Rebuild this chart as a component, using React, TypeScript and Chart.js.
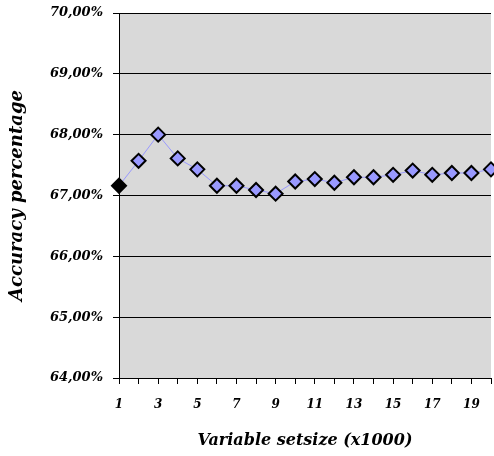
import React, { useEffect, useRef } from "react";
import { Chart, registerables } from "chart.js";

Chart.register(...registerables);

const categories = ["1","2","3","4","5","6","7","8","9","10","11","12","13","14","15","16","17","18","19","20"];
const accuracy = [67.16, 67.57, 68.0, 67.61, 67.43, 67.16, 67.16, 67.09, 67.03, 67.23, 67.27, 67.21, 67.3, 67.3, 67.34, 67.41, 67.34, 67.37, 67.37, 67.43];
const yMin = 64;
const yMax = 70;
const yStep = 1;
const xTitle = "Variable setsize (x1000)";
const yTitle = "Accuracy percentage";

const FONT = "'DejaVu Serif', serif";

export default function App() {
  const ref = useRef<HTMLCanvasElement | null>(null);

  useEffect(() => {
    document.body.style.margin = "0";
    const canvas = ref.current;
    if (!canvas) return;
    const chart = new Chart(canvas, {
      type: "line",
      data: {
        labels: categories,
        datasets: [
          {
            data: accuracy,
            borderColor: "#9999ff",
            borderWidth: 1,
            pointStyle: "rectRot",
            pointRadius: 7,
            pointHoverRadius: 7,
            pointBorderWidth: 2,
            pointBorderColor: "#000000",
            pointBackgroundColor: accuracy.map((_, i) => (i === 0 ? "#000000" : "#9999ff")),
            clip: false,
            tension: 0,
          } as any,
        ],
      },
      options: {
        responsive: false,
        animation: false,
        maintainAspectRatio: false,
        layout: { autoPadding: false, padding: { top: 13, right: 3, left: 0, bottom: 0 } } as any,
        plugins: {
          legend: { display: false },
          tooltip: { enabled: false },
        },
        scales: {
          x: {
            type: "category",
            offset: false,
            grid: {
              drawOnChartArea: false,
              drawTicks: true,
              tickLength: 6,
              color: "#000000",
            },
            border: { display: true, color: "#000000", width: 1 },
            ticks: {
              autoSkip: false,
              maxRotation: 0,
              padding: 14,
              color: "#000000",
              font: { family: FONT, size: 12, style: "italic", weight: "bold" },
              callback: (v: any, i: number) => (i % 2 === 0 ? categories[i] : ""),
            },
            title: {
              display: true,
              text: xTitle,
              color: "#000000",
              font: { family: FONT, size: 16, style: "italic", weight: "bold" },
              padding: { top: 0, bottom: 6 },
            },
            afterFit: (s: any) => {
              s.height = 78;
              s.paddingLeft = 0;
              s.paddingRight = 0;
            },
          },
          y: {
            min: yMin,
            max: yMax,
            grid: {
              color: "#000000",
              lineWidth: 1,
              tickLength: 6,
              drawTicks: true,
            },
            border: { display: true, color: "#000000", width: 1 },
            ticks: {
              stepSize: yStep,
              padding: 10,
              color: "#000000",
              font: { family: FONT, size: 13, style: "italic", weight: "bold" },
              callback: (v: any) => Number(v).toFixed(2).replace(".", ",") + "%",
            },
            title: {
              display: true,
              text: yTitle,
              color: "#000000",
              font: { family: FONT, size: 18, style: "italic", weight: "bold" },
              padding: { top: 7, bottom: 0 },
            },
            afterFit: (s: any) => {
              s.width = 119;
              s.paddingTop = 0;
              s.paddingBottom = 0;
            },
          },
        },
      },
      plugins: [
        {
          id: "plotBg",
          beforeDraw: (c: any) => {
            const { ctx, chartArea } = c;
            ctx.save();
            ctx.fillStyle = "#d9d9d9";
            ctx.fillRect(chartArea.left, chartArea.top, chartArea.right - chartArea.left, chartArea.bottom - chartArea.top);
            ctx.restore();
          },
        },
      ],
    });
    return () => chart.destroy();
  }, []);

  return (
    <div style={{ width: 494, height: 456, background: "#ffffff" }}>
      <canvas ref={ref} width={494} height={456} style={{ display: "block" }} />
    </div>
  );
}
